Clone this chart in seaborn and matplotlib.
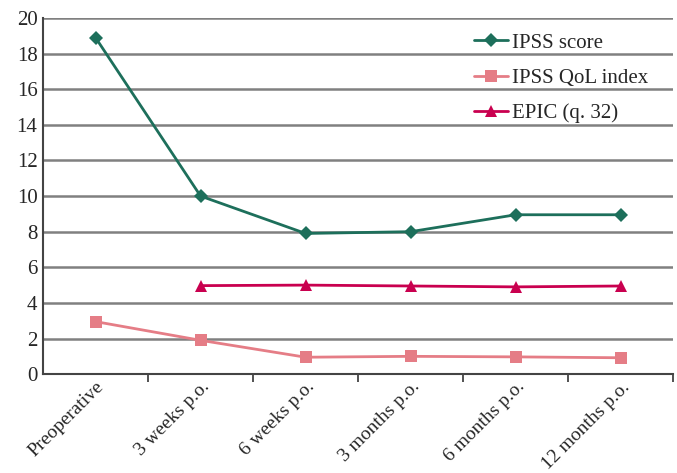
import numpy as np
import pandas as pd

import seaborn as sns
import matplotlib.pyplot as plt


timepoints = ["Preoperative", "3 weeks p.o.", "6 weeks p.o.",
              "3 months p.o.", "6 months p.o.", "12 months p.o."]

ipss_score = [18.9, 10.0, 7.9, 8.0, 8.95, 8.95]
ipss_qol = [2.95, 1.9, 0.95, 1.0, 0.97, 0.92]
epic_q32 = [np.nan, 4.97, 5.0, 4.95, 4.9, 4.95]

series_names = ["IPSS score", "IPSS QoL index", "EPIC (q. 32)"]
colors = ["#1d6f5b", "#e57d86", "#c9004f"]
markers = ["D", "s", "^"]
marker_sizes = [7, 9, 9]


sns.set_style("white")
plt.rcParams["font.family"] = ["Liberation Serif", "DejaVu Serif"]

df = pd.DataFrame({
    "pos": list(range(len(timepoints))) * 3,
    "value": ipss_score + ipss_qol + epic_q32,
    "series": np.repeat(series_names, len(timepoints))
})

fig = plt.figure(figsize=(6.77, 4.73), dpi=100)
ax = fig.add_axes([0.0635, 0.209, 0.931, 0.753])

for name, color, mk, ms in zip(series_names, colors, markers, marker_sizes):
    sub = df[df["series"] == name].dropna()
    sns.lineplot(
        data=sub,
        x="pos",
        y="value",
        color=color,
        marker=mk,
        markersize=ms,
        markeredgewidth=0,
        linewidth=2,
        label=name,
        ax=ax,
        zorder=3
    )

ax.set_xlim(-0.5, len(timepoints) - 0.5)
ax.set_ylim(0, 20)
ax.set_yticks(range(0, 21, 2))
ax.yaxis.grid(True, color="#808080", linewidth=1.8)
ax.set_axisbelow(True)

# tick marks at category boundaries, labels at centres
ax.set_xticks(np.arange(0.5, len(timepoints) - 0.4, 1))
ax.set_xticklabels([])
ax.set_xticks(range(len(timepoints)), minor=True)
ax.set_xticklabels(timepoints, minor=True, rotation=45,
                   ha="right", rotation_mode="anchor", fontsize=14)
ax.tick_params(axis="x", which="major", length=6, width=1.2,
               color="#333333", direction="out", bottom=True)
ax.tick_params(axis="x", which="minor", length=0, pad=3)
ax.tick_params(axis="y", labelsize=15, length=0, pad=4)

ax.set_xlabel("")
ax.set_ylabel("")

for side in ["top", "right"]:
    ax.spines[side].set_visible(False)
for side in ["left", "bottom"]:
    ax.spines[side].set_color("#444444")
    ax.spines[side].set_linewidth(1.5)

ax.legend(
    loc="upper right",
    bbox_to_anchor=(0.99, 1.01),
    frameon=False,
    fontsize=15,
    handlelength=1.6,
    handletextpad=0.2,
    labelspacing=0.75
)

plt.savefig("out.png", dpi=100)
plt.close()
